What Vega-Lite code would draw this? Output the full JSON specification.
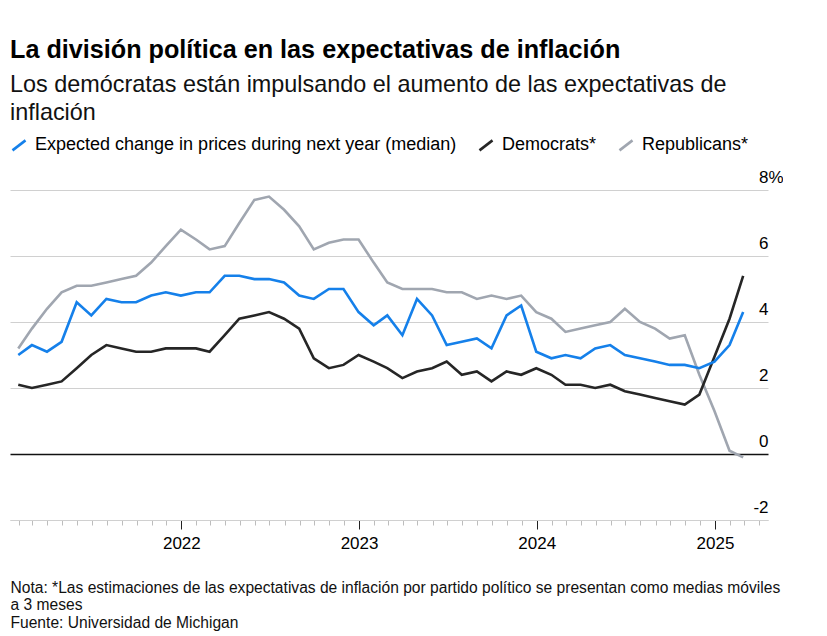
{
  "$schema": "https://vega.github.io/schema/vega-lite/v6.json",
  "background": "white",
  "padding": {"left": 10, "top": 38, "right": 0, "bottom": 0},
  "width": 758,
  "height": 330,
  "config": {
    "view": {"stroke": null},
    "font": "Liberation Sans"
  },
  "title": {
    "text": "La división política en las expectativas de inflación",
    "subtitle": ["Los demócratas están impulsando el aumento de las expectativas de", "inflación"],
    "anchor": "start",
    "font": "Liberation Sans",
    "fontSize": 25.2,
    "fontWeight": "bold",
    "color": "#000000",
    "subtitleFont": "Liberation Sans",
    "subtitleFontSize": 23.4,
    "subtitleColor": "#111111",
    "subtitleLineHeight": 28,
    "subtitlePadding": 10,
    "offset": 12
  },
  "data": {
    "values": [
      {"date": "2021-01-31", "series": "Republicans*", "value": 3.2},
      {"date": "2021-02-28", "series": "Republicans*", "value": 3.8},
      {"date": "2021-03-31", "series": "Republicans*", "value": 4.4},
      {"date": "2021-04-30", "series": "Republicans*", "value": 4.9},
      {"date": "2021-05-31", "series": "Republicans*", "value": 5.1},
      {"date": "2021-06-30", "series": "Republicans*", "value": 5.1},
      {"date": "2021-07-31", "series": "Republicans*", "value": 5.2},
      {"date": "2021-08-31", "series": "Republicans*", "value": 5.3},
      {"date": "2021-09-30", "series": "Republicans*", "value": 5.4},
      {"date": "2021-10-31", "series": "Republicans*", "value": 5.8},
      {"date": "2021-11-30", "series": "Republicans*", "value": 6.3},
      {"date": "2021-12-31", "series": "Republicans*", "value": 6.8},
      {"date": "2022-01-31", "series": "Republicans*", "value": 6.5},
      {"date": "2022-02-28", "series": "Republicans*", "value": 6.2},
      {"date": "2022-03-31", "series": "Republicans*", "value": 6.3},
      {"date": "2022-04-30", "series": "Republicans*", "value": 7.0},
      {"date": "2022-05-31", "series": "Republicans*", "value": 7.7},
      {"date": "2022-06-30", "series": "Republicans*", "value": 7.8},
      {"date": "2022-07-31", "series": "Republicans*", "value": 7.4},
      {"date": "2022-08-31", "series": "Republicans*", "value": 6.9},
      {"date": "2022-09-30", "series": "Republicans*", "value": 6.2},
      {"date": "2022-10-31", "series": "Republicans*", "value": 6.4},
      {"date": "2022-11-30", "series": "Republicans*", "value": 6.5},
      {"date": "2022-12-31", "series": "Republicans*", "value": 6.5},
      {"date": "2023-01-31", "series": "Republicans*", "value": 5.8},
      {"date": "2023-02-28", "series": "Republicans*", "value": 5.2},
      {"date": "2023-03-31", "series": "Republicans*", "value": 5.0},
      {"date": "2023-04-30", "series": "Republicans*", "value": 5.0},
      {"date": "2023-05-31", "series": "Republicans*", "value": 5.0},
      {"date": "2023-06-30", "series": "Republicans*", "value": 4.9},
      {"date": "2023-07-31", "series": "Republicans*", "value": 4.9},
      {"date": "2023-08-31", "series": "Republicans*", "value": 4.7},
      {"date": "2023-09-30", "series": "Republicans*", "value": 4.8},
      {"date": "2023-10-31", "series": "Republicans*", "value": 4.7},
      {"date": "2023-11-30", "series": "Republicans*", "value": 4.8},
      {"date": "2023-12-31", "series": "Republicans*", "value": 4.3},
      {"date": "2024-01-31", "series": "Republicans*", "value": 4.1},
      {"date": "2024-02-29", "series": "Republicans*", "value": 3.7},
      {"date": "2024-03-31", "series": "Republicans*", "value": 3.8},
      {"date": "2024-04-30", "series": "Republicans*", "value": 3.9},
      {"date": "2024-05-31", "series": "Republicans*", "value": 4.0},
      {"date": "2024-06-30", "series": "Republicans*", "value": 4.4},
      {"date": "2024-07-31", "series": "Republicans*", "value": 4.0},
      {"date": "2024-08-31", "series": "Republicans*", "value": 3.8},
      {"date": "2024-09-30", "series": "Republicans*", "value": 3.5},
      {"date": "2024-10-31", "series": "Republicans*", "value": 3.6},
      {"date": "2024-11-30", "series": "Republicans*", "value": 2.4},
      {"date": "2024-12-31", "series": "Republicans*", "value": 1.3},
      {"date": "2025-01-31", "series": "Republicans*", "value": 0.1},
      {"date": "2025-02-28", "series": "Republicans*", "value": -0.1},

      {"date": "2021-01-31", "series": "Democrats*", "value": 2.1},
      {"date": "2021-02-28", "series": "Democrats*", "value": 2.0},
      {"date": "2021-03-31", "series": "Democrats*", "value": 2.1},
      {"date": "2021-04-30", "series": "Democrats*", "value": 2.2},
      {"date": "2021-05-31", "series": "Democrats*", "value": 2.6},
      {"date": "2021-06-30", "series": "Democrats*", "value": 3.0},
      {"date": "2021-07-31", "series": "Democrats*", "value": 3.3},
      {"date": "2021-08-31", "series": "Democrats*", "value": 3.2},
      {"date": "2021-09-30", "series": "Democrats*", "value": 3.1},
      {"date": "2021-10-31", "series": "Democrats*", "value": 3.1},
      {"date": "2021-11-30", "series": "Democrats*", "value": 3.2},
      {"date": "2021-12-31", "series": "Democrats*", "value": 3.2},
      {"date": "2022-01-31", "series": "Democrats*", "value": 3.2},
      {"date": "2022-02-28", "series": "Democrats*", "value": 3.1},
      {"date": "2022-03-31", "series": "Democrats*", "value": 3.6},
      {"date": "2022-04-30", "series": "Democrats*", "value": 4.1},
      {"date": "2022-05-31", "series": "Democrats*", "value": 4.2},
      {"date": "2022-06-30", "series": "Democrats*", "value": 4.3},
      {"date": "2022-07-31", "series": "Democrats*", "value": 4.1},
      {"date": "2022-08-31", "series": "Democrats*", "value": 3.8},
      {"date": "2022-09-30", "series": "Democrats*", "value": 2.9},
      {"date": "2022-10-31", "series": "Democrats*", "value": 2.6},
      {"date": "2022-11-30", "series": "Democrats*", "value": 2.7},
      {"date": "2022-12-31", "series": "Democrats*", "value": 3.0},
      {"date": "2023-01-31", "series": "Democrats*", "value": 2.8},
      {"date": "2023-02-28", "series": "Democrats*", "value": 2.6},
      {"date": "2023-03-31", "series": "Democrats*", "value": 2.3},
      {"date": "2023-04-30", "series": "Democrats*", "value": 2.5},
      {"date": "2023-05-31", "series": "Democrats*", "value": 2.6},
      {"date": "2023-06-30", "series": "Democrats*", "value": 2.8},
      {"date": "2023-07-31", "series": "Democrats*", "value": 2.4},
      {"date": "2023-08-31", "series": "Democrats*", "value": 2.5},
      {"date": "2023-09-30", "series": "Democrats*", "value": 2.2},
      {"date": "2023-10-31", "series": "Democrats*", "value": 2.5},
      {"date": "2023-11-30", "series": "Democrats*", "value": 2.4},
      {"date": "2023-12-31", "series": "Democrats*", "value": 2.6},
      {"date": "2024-01-31", "series": "Democrats*", "value": 2.4},
      {"date": "2024-02-29", "series": "Democrats*", "value": 2.1},
      {"date": "2024-03-31", "series": "Democrats*", "value": 2.1},
      {"date": "2024-04-30", "series": "Democrats*", "value": 2.0},
      {"date": "2024-05-31", "series": "Democrats*", "value": 2.1},
      {"date": "2024-06-30", "series": "Democrats*", "value": 1.9},
      {"date": "2024-07-31", "series": "Democrats*", "value": 1.8},
      {"date": "2024-08-31", "series": "Democrats*", "value": 1.7},
      {"date": "2024-09-30", "series": "Democrats*", "value": 1.6},
      {"date": "2024-10-31", "series": "Democrats*", "value": 1.5},
      {"date": "2024-11-30", "series": "Democrats*", "value": 1.8},
      {"date": "2024-12-31", "series": "Democrats*", "value": 2.95},
      {"date": "2025-01-31", "series": "Democrats*", "value": 4.1},
      {"date": "2025-02-28", "series": "Democrats*", "value": 5.4},

      {"date": "2021-01-31", "series": "Expected change in prices during next year (median)", "value": 3.0},
      {"date": "2021-02-28", "series": "Expected change in prices during next year (median)", "value": 3.3},
      {"date": "2021-03-31", "series": "Expected change in prices during next year (median)", "value": 3.1},
      {"date": "2021-04-30", "series": "Expected change in prices during next year (median)", "value": 3.4},
      {"date": "2021-05-31", "series": "Expected change in prices during next year (median)", "value": 4.6},
      {"date": "2021-06-30", "series": "Expected change in prices during next year (median)", "value": 4.2},
      {"date": "2021-07-31", "series": "Expected change in prices during next year (median)", "value": 4.7},
      {"date": "2021-08-31", "series": "Expected change in prices during next year (median)", "value": 4.6},
      {"date": "2021-09-30", "series": "Expected change in prices during next year (median)", "value": 4.6},
      {"date": "2021-10-31", "series": "Expected change in prices during next year (median)", "value": 4.8},
      {"date": "2021-11-30", "series": "Expected change in prices during next year (median)", "value": 4.9},
      {"date": "2021-12-31", "series": "Expected change in prices during next year (median)", "value": 4.8},
      {"date": "2022-01-31", "series": "Expected change in prices during next year (median)", "value": 4.9},
      {"date": "2022-02-28", "series": "Expected change in prices during next year (median)", "value": 4.9},
      {"date": "2022-03-31", "series": "Expected change in prices during next year (median)", "value": 5.4},
      {"date": "2022-04-30", "series": "Expected change in prices during next year (median)", "value": 5.4},
      {"date": "2022-05-31", "series": "Expected change in prices during next year (median)", "value": 5.3},
      {"date": "2022-06-30", "series": "Expected change in prices during next year (median)", "value": 5.3},
      {"date": "2022-07-31", "series": "Expected change in prices during next year (median)", "value": 5.2},
      {"date": "2022-08-31", "series": "Expected change in prices during next year (median)", "value": 4.8},
      {"date": "2022-09-30", "series": "Expected change in prices during next year (median)", "value": 4.7},
      {"date": "2022-10-31", "series": "Expected change in prices during next year (median)", "value": 5.0},
      {"date": "2022-11-30", "series": "Expected change in prices during next year (median)", "value": 5.0},
      {"date": "2022-12-31", "series": "Expected change in prices during next year (median)", "value": 4.3},
      {"date": "2023-01-31", "series": "Expected change in prices during next year (median)", "value": 3.9},
      {"date": "2023-02-28", "series": "Expected change in prices during next year (median)", "value": 4.2},
      {"date": "2023-03-31", "series": "Expected change in prices during next year (median)", "value": 3.6},
      {"date": "2023-04-30", "series": "Expected change in prices during next year (median)", "value": 4.7},
      {"date": "2023-05-31", "series": "Expected change in prices during next year (median)", "value": 4.2},
      {"date": "2023-06-30", "series": "Expected change in prices during next year (median)", "value": 3.3},
      {"date": "2023-07-31", "series": "Expected change in prices during next year (median)", "value": 3.4},
      {"date": "2023-08-31", "series": "Expected change in prices during next year (median)", "value": 3.5},
      {"date": "2023-09-30", "series": "Expected change in prices during next year (median)", "value": 3.2},
      {"date": "2023-10-31", "series": "Expected change in prices during next year (median)", "value": 4.2},
      {"date": "2023-11-30", "series": "Expected change in prices during next year (median)", "value": 4.5},
      {"date": "2023-12-31", "series": "Expected change in prices during next year (median)", "value": 3.1},
      {"date": "2024-01-31", "series": "Expected change in prices during next year (median)", "value": 2.9},
      {"date": "2024-02-29", "series": "Expected change in prices during next year (median)", "value": 3.0},
      {"date": "2024-03-31", "series": "Expected change in prices during next year (median)", "value": 2.9},
      {"date": "2024-04-30", "series": "Expected change in prices during next year (median)", "value": 3.2},
      {"date": "2024-05-31", "series": "Expected change in prices during next year (median)", "value": 3.3},
      {"date": "2024-06-30", "series": "Expected change in prices during next year (median)", "value": 3.0},
      {"date": "2024-07-31", "series": "Expected change in prices during next year (median)", "value": 2.9},
      {"date": "2024-08-31", "series": "Expected change in prices during next year (median)", "value": 2.8},
      {"date": "2024-09-30", "series": "Expected change in prices during next year (median)", "value": 2.7},
      {"date": "2024-10-31", "series": "Expected change in prices during next year (median)", "value": 2.7},
      {"date": "2024-11-30", "series": "Expected change in prices during next year (median)", "value": 2.6},
      {"date": "2024-12-31", "series": "Expected change in prices during next year (median)", "value": 2.8},
      {"date": "2025-01-31", "series": "Expected change in prices during next year (median)", "value": 3.3},
      {"date": "2025-02-28", "series": "Expected change in prices during next year (median)", "value": 4.3}
    ]
  },
  "mark": {"type": "line", "strokeWidth": 2.6, "strokeJoin": "miter", "strokeCap": "butt"},
  "encoding": {
    "x": {
      "field": "date",
      "type": "temporal",
      "scale": {
        "type": "utc",
        "domain": [
          {"year": 2021, "month": 1, "date": 14, "utc": true},
          {"year": 2025, "month": 4, "date": 20, "utc": true}
        ]
      },
      "axis": {
        "orient": "bottom",
        "tickCount": {"interval": "month", "step": 1},
        "labelExpr": "utcmonth(datum.value) === 0 ? utcFormat(datum.value, '%Y') : ''",
        "labelOverlap": false,
        "labelFlush": false,
        "grid": false,
        "domainColor": "#d0d0d0",
        "domainWidth": 1,
        "tickColor": {"condition": {"test": "utcmonth(datum.value) === 0", "value": "#222222"}, "value": "#bdbdbd"},
        "tickSize": {"condition": {"test": "utcmonth(datum.value) === 0", "value": 9}, "value": 5},
        "tickWidth": 1,
        "labelFont": "Liberation Sans",
        "labelFontSize": 17,
        "labelColor": "#000000",
        "labelPadding": 6,
        "title": [
          "Nota: *Las estimaciones de las expectativas de inflación por partido político se presentan como medias móviles",
          "a 3 meses",
          "Fuente: Universidad de Michigan"
        ],
        "titleAnchor": "start",
        "titleAlign": "left",
        "titleBaseline": "top",
        "titleFont": "Liberation Sans",
        "titleFontSize": 15.6,
        "titleFontWeight": "normal",
        "titleColor": "#111111",
        "titleLineHeight": 17.5,
        "titlePadding": 29
      }
    },
    "y": {
      "field": "value",
      "type": "quantitative",
      "scale": {"domain": [-2, 8], "nice": false, "zero": false},
      "axis": {
        "orient": "right",
        "title": null,
        "values": [-2, 0, 2, 4, 6, 8],
        "domain": false,
        "ticks": false,
        "grid": true,
        "gridColor": {"condition": {"test": "datum.value === 0", "value": "#111111"}, "value": "#d0d0d0"},
        "gridWidth": {"condition": {"test": "datum.value === 0", "value": 1.3}, "value": 1},
        "labelExpr": "datum.value === 8 ? '8%' : '' + datum.value",
        "labelAlign": "right",
        "labelBaseline": "alphabetic",
        "labelOffset": -8,
        "labelPadding": {"condition": {"test": "datum.value === 8", "value": 15}, "value": 0},
        "labelFont": "Liberation Sans",
        "labelFontSize": 17,
        "labelColor": "#000000"
      }
    },
    "color": {
      "field": "series",
      "type": "nominal",
      "sort": ["Expected change in prices during next year (median)", "Democrats*", "Republicans*"],
      "scale": {
        "domain": ["Expected change in prices during next year (median)", "Democrats*", "Republicans*"],
        "range": ["#1580ea", "#262626", "#a0a6b0"]
      },
      "legend": {
        "orient": "top",
        "direction": "horizontal",
        "title": null,
        "symbolType": "M-1,0.77L1,-0.77",
        "symbolSize": 169,
        "symbolStrokeWidth": 2.6,
        "labelFont": "Liberation Sans",
        "labelFontSize": 18,
        "labelColor": "#000000",
        "labelLimit": 0,
        "labelOffset": 7,
        "columnPadding": 17,
        "padding": 0,
        "offset": 34
      }
    }
  }
}
